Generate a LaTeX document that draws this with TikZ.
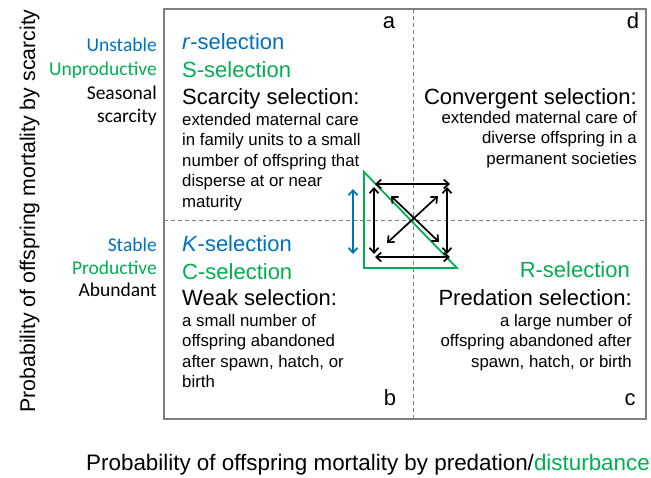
\documentclass[tikz,border=0pt]{standalone}
\usepackage{fontspec}
\setmainfont{Liberation Sans}
\newfontfamily\calib{Carlito}
\usetikzlibrary{arrows.meta}
\definecolor{oblue}{HTML}{0070C0}
\definecolor{ogreen}{HTML}{00B050}
\definecolor{bordergray}{HTML}{7F7F7F}
\tikzset{
  big/.style={inner sep=0pt, font=\fontsize{22}{26}\selectfont},
  small/.style={inner sep=0pt, font=\fontsize{16.8}{20}\selectfont},
  side/.style={inner sep=0pt, anchor=base east, font=\calib\fontsize{19.5}{23}\selectfont},
  letter/.style={inner sep=0pt, anchor=base, font=\fontsize{22}{26}\selectfont},
  yaxis/.style={inner sep=0pt, font=\fontsize{21.3}{25}\selectfont},
  xaxis/.style={inner sep=0pt, font=\fontsize{22.4}{26}\selectfont},
  dbl/.style={line width=1.7pt, {Straight Barb[length=5pt,width=9pt]}-{Straight Barb[length=5pt,width=9pt]}},
}
\begin{document}
\begin{tikzpicture}[x=1pt,y=-1pt]
\useasboundingbox (0,0) rectangle (651,477);
% frame
\draw[bordergray, line width=1.2pt] (164,9) rectangle (646,419);
\draw[bordergray, line width=0.9pt, dash pattern=on 4pt off 3pt] (413,9) -- (413,419);
\draw[bordergray, line width=0.9pt, dash pattern=on 4pt off 3pt] (164,220) -- (646,220);
% quadrant letters
\node[letter] (la) at (389,28) {a};
\node[letter] (ld) at (633,28) {d};
\node[letter] (lb) at (390,405) {b};
\node[letter] (lc) at (630,405) {c};
% quadrant a
\node[big, anchor=base west, text=oblue] (ra) at (182,49) {\textit{r}-selection};
\node[big, anchor=base west, text=ogreen] (sa) at (182,77) {S-selection};
\node[big, anchor=base west] (ha) at (182,104) {Scarcity selection:};
\node[small, anchor=base west] (a1) at (182,125) {extended maternal care};
\node[small, anchor=base west] (a2) at (182,145.5) {in family units to a small};
\node[small, anchor=base west] (a3) at (182,166) {number of offspring that};
\node[small, anchor=base west] (a4) at (182,186.5) {disperse at or near};
\node[small, anchor=base west] (a5) at (182,207) {maturity};
% quadrant b
\node[big, anchor=base west, text=oblue] (kb) at (182,251.5) {\textit{K}-selection};
\node[big, anchor=base west, text=ogreen] (cb) at (182,279) {C-selection};
\node[big, anchor=base west] (hb) at (182,305) {Weak selection:};
\node[small, anchor=base west] (b1) at (182,326) {a small number of};
\node[small, anchor=base west] (b2) at (182,346.5) {offspring abandoned};
\node[small, anchor=base west] (b3) at (182,367) {after spawn, hatch, or};
\node[small, anchor=base west] (b4) at (182,387.5) {birth};
% quadrant d
\node[big, anchor=base east] (hd) at (637,104) {Convergent selection:};
\node[small, anchor=base east] (d1) at (637,123) {extended maternal care of};
\node[small, anchor=base east] (d2) at (637,143.5) {diverse offspring in a};
\node[small, anchor=base east] (d3) at (637,164) {permanent societies};
% quadrant c
\node[big, anchor=base east, text=ogreen] (rc) at (630,277.5) {R-selection};
\node[big, anchor=base east] (hc) at (632,305) {Predation selection:};
\node[small, anchor=base east] (c1) at (632,326) {a large number of};
\node[small, anchor=base east] (c2) at (632,346.5) {offspring abandoned after};
\node[small, anchor=base east] (c3) at (632,367) {spawn, hatch, or birth};
% side labels
\node[side, text=oblue] (s1) at (157,51.5) {Unstable};
\node[side, text=ogreen] (s2) at (157,75.3) {Unproductive};
\node[side] (s3) at (157,99.1) {Seasonal};
\node[side] (s4) at (157,122.9) {scarcity};
\node[side, text=oblue] (s5) at (157,251.5) {Stable};
\node[side, text=ogreen] (s6) at (157,274) {Productive};
\node[side] (s7) at (157,296.5) {Abundant};
% axis labels
\node[yaxis, anchor=base, rotate=90] (ylab) at (35,211) {Probability of offspring mortality by scarcity};
\node[xaxis, anchor=base west] (xlab) at (86,470) {Probability of offspring mortality by predation/\textcolor{ogreen}{disturbance}};
% green triangle
\coordinate (t1) at (364,172);
\coordinate (t2) at (364,268);
\coordinate (t3) at (457,268);
\draw[ogreen, line width=1.8pt, line join=miter] (t1) -- (t2) -- (t3) -- cycle;
% blue arrow
\coordinate (bu) at (353,189);
\coordinate (bd) at (353,254);
\draw[dbl, oblue] (bu) -- (bd);
% black arrows
\coordinate (tl) at (375,184);
\coordinate (tr) at (450,184);
\coordinate (bl) at (375,257);
\coordinate (br) at (450,257);
\coordinate (lu) at (374,187);
\coordinate (ld) at (374,254);
\coordinate (ru) at (447,187);
\coordinate (rd) at (447,254);
\coordinate (g1) at (387,243);
\coordinate (g2) at (438,196);
\coordinate (h1) at (391,196);
\coordinate (h2) at (439,242);
\draw[dbl] (tl) -- (tr);
\draw[dbl] (bl) -- (br);
\draw[dbl] (lu) -- (ld);
\draw[dbl] (ru) -- (rd);
\draw[dbl] (g1) -- (g2);
\draw[dbl] (h1) -- (h2);
\end{tikzpicture}
\end{document}
